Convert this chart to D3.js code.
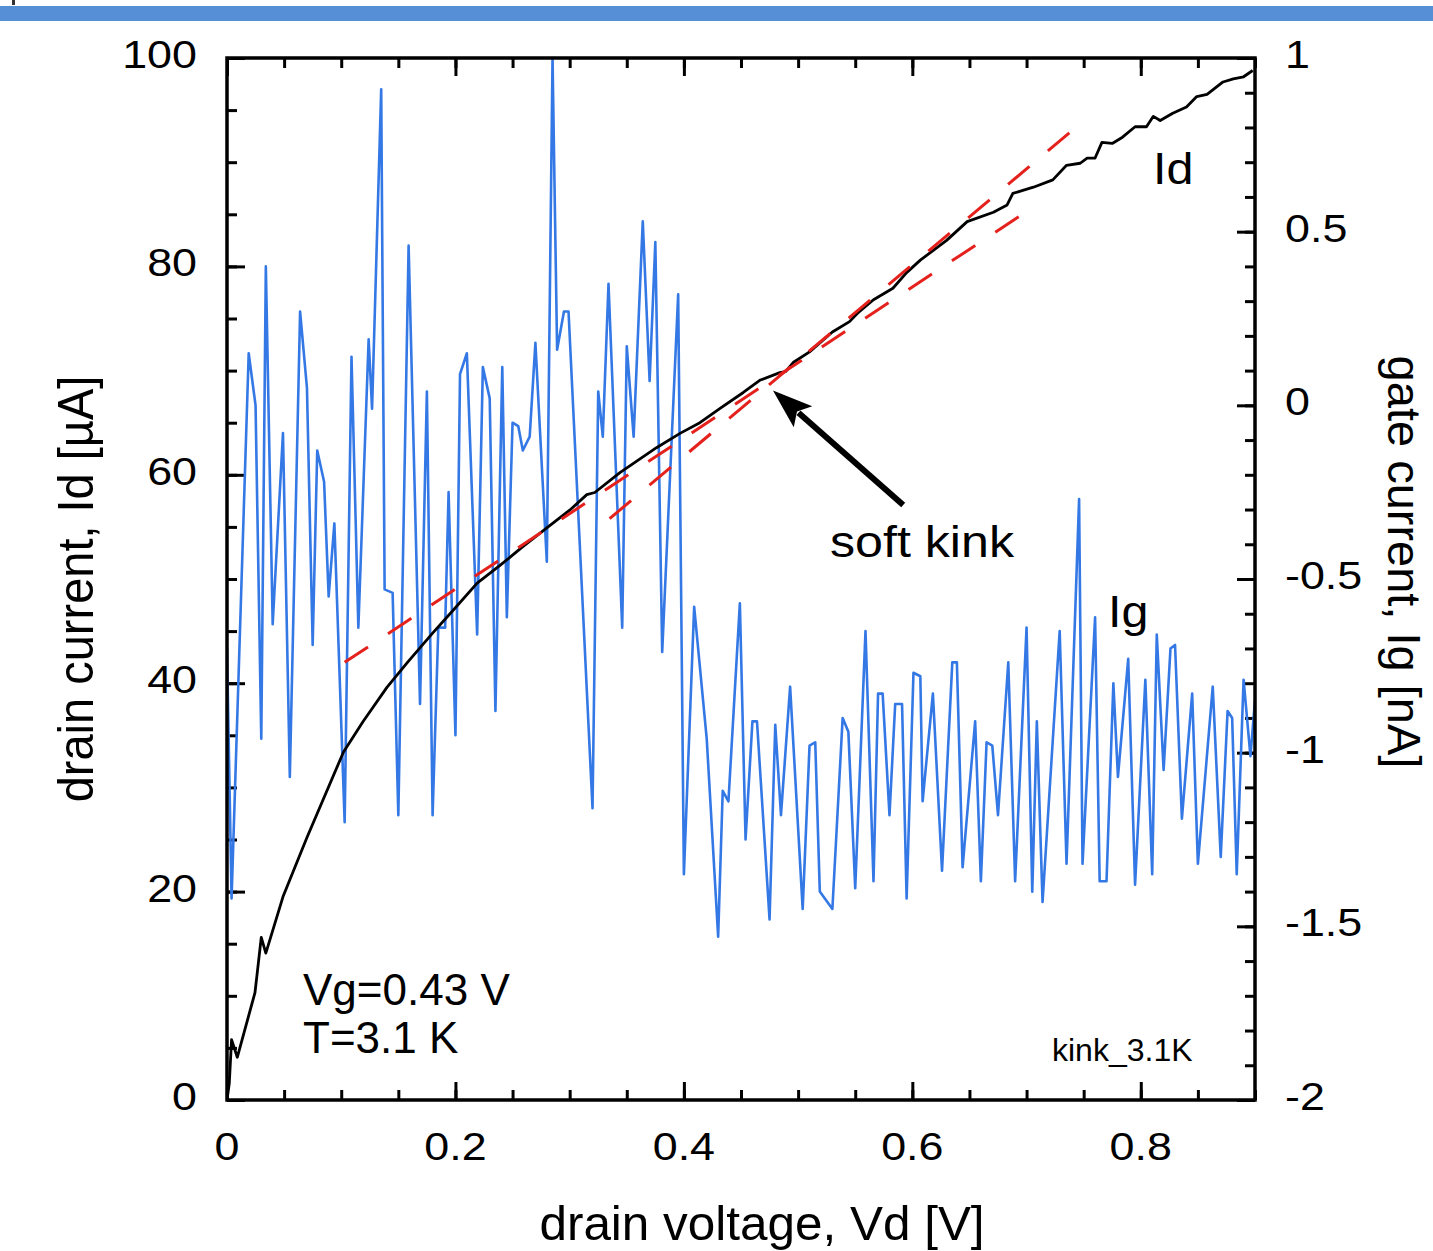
<!DOCTYPE html>
<html><head><meta charset="utf-8">
<script src="https://cdn.jsdelivr.net/npm/d3@7"></script>
<style>
body{margin:0;background:#fff;}
svg{display:block;}
text{font-family:"Liberation Sans",Arial,Helvetica,sans-serif;fill:#000;}
</style>
</head><body>
<svg id="c" width="1433" height="1251"></svg>
<script>
// ---------- data ----------
const vdTicks = [0, 0.2, 0.4, 0.6, 0.8];
const vdLabels = ["0", "0.2", "0.4", "0.6", "0.8"];
const idTicks = [0, 20, 40, 60, 80, 100];
const idLabels = ["0", "20", "40", "60", "80", "100"];
const igTicks = [-2, -1.5, -1, -0.5, 0, 0.5, 1];
const igLabels = ["-2", "-1.5", "-1", "-0.5", "0", "0.5", "1"];

// drain current Id [uA] vs Vd [V]
const idData = [
[0.000,0.0],[0.002,1.6],[0.004,5.8],[0.009,4.1],[0.0245,10.3],[0.030,15.6],[0.034,14.1],
[0.049,19.5],[0.070,25.2],[0.102,33.4],[0.119,36.3],[0.140,39.6],[0.158,42.0],[0.180,44.8],
[0.198,47.0],[0.219,49.6],[0.239,51.3],[0.259,53.1],[0.280,54.9],[0.300,56.6],[0.315,58.1],
[0.322,58.3],[0.344,60.2],[0.376,62.6],[0.397,64.0],[0.414,65.0],[0.432,66.4],[0.452,67.9],
[0.467,69.1],[0.484,69.8],[0.489,69.9],[0.496,70.8],[0.510,71.8],[0.530,73.7],[0.545,74.7],
[0.552,75.5],[0.566,76.8],[0.583,77.9],[0.595,79.4],[0.607,80.6],[0.630,82.5],[0.648,84.3],
[0.671,85.2],[0.683,85.9],[0.688,87.0],[0.706,87.6],[0.723,88.3],[0.735,89.7],[0.747,89.9],
[0.753,90.4],[0.760,90.4],[0.766,91.9],[0.775,91.8],[0.784,92.4],[0.795,93.4],[0.805,93.4],
[0.811,94.4],[0.817,94.0],[0.828,94.7],[0.840,95.3],[0.849,96.3],[0.858,96.5],[0.872,97.7],
[0.881,98.0],[0.890,98.2],[0.898,98.8]
];

// gate current Ig [nA] vs Vd [V]
const igData = [
[0.000,-0.70],[0.004,-1.42],[0.019,0.15],[0.025,0.00],[0.030,-0.96],[0.034,0.40],[0.040,-0.63],
[0.049,-0.08],[0.055,-1.07],[0.064,0.27],[0.070,0.05],[0.075,-0.69],[0.079,-0.13],[0.085,-0.22],
[0.089,-0.55],[0.094,-0.34],[0.103,-1.20],[0.109,0.14],[0.115,-0.64],[0.124,0.19],[0.127,-0.01],
[0.135,0.91],[0.138,-0.53],[0.145,-0.54],[0.150,-1.18],[0.159,0.46],[0.169,-0.86],[0.175,0.04],
[0.180,-1.18],[0.185,-0.64],[0.191,-0.64],[0.194,-0.25],[0.200,-0.95],[0.204,0.09],[0.210,0.15],
[0.219,-0.66],[0.224,0.11],[0.230,0.02],[0.235,-0.88],[0.241,0.11],[0.245,-0.61],[0.250,-0.05],
[0.255,-0.06],[0.259,-0.13],[0.265,-0.09],[0.270,0.18],[0.280,-0.45],[0.285,1.00],[0.289,0.16],
[0.295,0.27],[0.299,0.27],[0.320,-1.16],[0.325,0.04],[0.329,-0.09],[0.334,0.35],[0.346,-0.64],
[0.350,0.17],[0.356,-0.09],[0.364,0.53],[0.370,0.07],[0.375,0.47],[0.381,-0.71],[0.395,0.32],
[0.400,-1.35],[0.409,-0.58],[0.420,-0.96],[0.430,-1.53],[0.434,-1.11],[0.439,-1.14],[0.449,-0.57],
[0.454,-1.25],[0.460,-0.91],[0.464,-0.91],[0.475,-1.48],[0.480,-0.92],[0.485,-1.18],[0.493,-0.81],
[0.504,-1.45],[0.510,-0.98],[0.515,-0.97],[0.519,-1.40],[0.530,-1.45],[0.539,-0.90],[0.544,-0.94],
[0.550,-1.39],[0.559,-0.65],[0.566,-1.37],[0.570,-0.83],[0.574,-0.83],[0.580,-1.18],[0.585,-0.86],
[0.591,-0.86],[0.595,-1.42],[0.601,-0.77],[0.607,-0.78],[0.609,-1.14],[0.618,-0.83],[0.626,-1.34],
[0.635,-0.74],[0.639,-0.74],[0.644,-1.33],[0.655,-0.91],[0.660,-1.37],[0.665,-0.97],[0.670,-0.98],
[0.675,-1.18],[0.684,-0.74],[0.690,-1.37],[0.700,-0.64],[0.705,-1.40],[0.709,-0.91],[0.714,-1.43],
[0.729,-0.65],[0.735,-1.32],[0.746,-0.27],[0.749,-1.32],[0.760,-0.61],[0.764,-1.37],[0.770,-1.37],
[0.776,-0.80],[0.780,-1.07],[0.789,-0.73],[0.795,-1.38],[0.804,-0.79],[0.810,-1.35],[0.814,-0.66],
[0.820,-1.05],[0.826,-0.70],[0.830,-0.69],[0.836,-1.19],[0.845,-0.83],[0.850,-1.32],[0.863,-0.81],
[0.870,-1.30],[0.876,-0.88],[0.880,-0.90],[0.884,-1.35],[0.890,-0.79],[0.896,-1.01],[0.900,-0.85]
];

// red dashed fit lines (Vd, Id)
const fitLow = [[0.103, 42.0], [0.706, 85.7]];
const fitHigh = [[0.335, 55.8], [0.745, 93.5]];
// arrow (Vd, Id): tail -> tip
const arrowPts = [[0.592, 57.1], [0.478, 68.1]];

// ---------- layout ----------
const W = 1433, H = 1251;
const L = 227, R = 1255, T = 58, B = 1100;
const svg = d3.select("#c");
svg.append("rect").attr("width", W).attr("height", H).attr("fill", "#fff");
// top banner
svg.append("rect").attr("x", 0).attr("y", 6).attr("width", W).attr("height", 15).attr("fill", "#568fd6");
svg.append("rect").attr("x", 12).attr("y", 0).attr("width", 3).attr("height", 5).attr("fill", "#333");

const x = d3.scaleLinear().domain([0, 0.9]).range([L, R]);
const yL = d3.scaleLinear().domain([0, 100]).range([B, T]);
const yR = d3.scaleLinear().domain([-2, 1]).range([B, T]);

svg.append("clipPath").attr("id", "clip").append("rect")
  .attr("x", L).attr("y", T - 2).attr("width", R - L).attr("height", B - T + 2);

// ticks
function ticks(axisFn, scale, values, size, tx, ty) {
  const g = svg.append("g").attr("transform", `translate(${tx},${ty})`)
    .call(axisFn(scale).tickValues(values).tickSizeInner(size).tickSizeOuter(0).tickFormat(""));
  g.select(".domain").remove();
  g.selectAll(".tick line").attr("stroke", "#000").attr("stroke-width", 3);
}
const vdMinor = d3.range(0, 0.9001, 0.05).map(v => +v.toFixed(2));
const idMinor = d3.range(0, 100.01, 5);
const igMinor = d3.range(-2, 1.0001, 0.1).map(v => +v.toFixed(1));
ticks(d3.axisBottom, x, vdMinor, -10, 0, B);
ticks(d3.axisBottom, x, vdTicks, -18, 0, B);
ticks(d3.axisTop, x, vdMinor, -10, 0, T);
ticks(d3.axisTop, x, vdTicks, -18, 0, T);
ticks(d3.axisLeft, yL, idMinor, -10, L, 0);
ticks(d3.axisLeft, yL, idTicks, -18, L, 0);
ticks(d3.axisRight, yR, igMinor, -10, R, 0);
ticks(d3.axisRight, yR, igTicks, -18, R, 0);

// series
const plot = svg.append("g").attr("clip-path", "url(#clip)");
const lineIg = d3.line().x(d => x(d[0])).y(d => yR(d[1]));
const lineId = d3.line().x(d => x(d[0])).y(d => yL(d[1]));
plot.append("path").datum(igData).attr("d", lineIg)
  .attr("fill", "none").attr("stroke", "#3478e6").attr("stroke-width", 2.6).attr("stroke-linejoin", "round");
plot.append("path").datum(idData).attr("d", lineId)
  .attr("fill", "none").attr("stroke", "#000").attr("stroke-width", 2.8).attr("stroke-linejoin", "round");
[fitLow, fitHigh].forEach(f => {
  plot.append("path").datum(f).attr("d", lineId)
    .attr("fill", "none").attr("stroke", "#e4211c").attr("stroke-width", 3)
    .attr("stroke-dasharray", "28,24");
});

// frame
svg.append("rect").attr("x", L).attr("y", T).attr("width", R - L).attr("height", B - T)
  .attr("fill", "none").attr("stroke", "#000").attr("stroke-width", 3.5);

// arrow
{
  const [p0, p1] = arrowPts.map(d => [x(d[0]), yL(d[1])]);
  const dx = p1[0] - p0[0], dy = p1[1] - p0[1], len = Math.hypot(dx, dy);
  const ux = dx / len, uy = dy / len, px = -uy, py = ux;
  const hl = 40, hw = 14;
  const bx = p1[0] - ux * hl, by = p1[1] - uy * hl;
  svg.append("line").attr("x1", p0[0]).attr("y1", p0[1])
    .attr("x2", p1[0] - ux * (hl - 6)).attr("y2", p1[1] - uy * (hl - 6))
    .attr("stroke", "#000").attr("stroke-width", 6);
  svg.append("path").attr("d",
    `M${p1[0]},${p1[1]} L${bx + px * hw},${by + py * hw} L${p1[0] - ux * (hl - 8)},${p1[1] - uy * (hl - 8)} L${bx - px * hw},${by - py * hw} Z`)
    .attr("fill", "#000");
}

// text helper
function label(str, tx, ty, size, sx, anchor, rot) {
  const g = svg.append("g").attr("transform",
    `translate(${tx},${ty}) scale(${sx},1)` + (rot ? ` rotate(${rot})` : ""));
  g.append("text").attr("text-anchor", anchor).attr("font-size", size).text(str);
}

// tick labels
vdTicks.forEach((v, i) => label(vdLabels[i], x(v), B + 60, 39, 1.15, "middle"));
idTicks.forEach((v, i) => label(idLabels[i], L - 30, yL(v) + 10, 39, 1.15, "end"));
igTicks.forEach((v, i) => label(igLabels[i], R + 30, yR(v) + 10, 39, 1.15, "start"));

// axis titles
label("drain voltage, Vd [V]", 762, 1240, 48, 1.03, "middle");
label("drain current, Id [\u00b5A]", 93, 589, 47, 1.05, "middle", -90);
label("gate current, Ig [nA]", 1388, 562, 47, 1.0, "middle", 90);

// annotations
label("Id", 1153, 184, 44, 1.1, "start");
label("Ig", 1108, 627, 44, 1.1, "start");
label("soft kink", 830, 557, 44, 1.14, "start");
label("Vg=0.43 V", 303, 1005, 44, 1, "start");
label("T=3.1 K", 303, 1053, 44, 1, "start");
label("kink_3.1K", 1052, 1061, 32, 1, "start");
</script>
</body></html>
